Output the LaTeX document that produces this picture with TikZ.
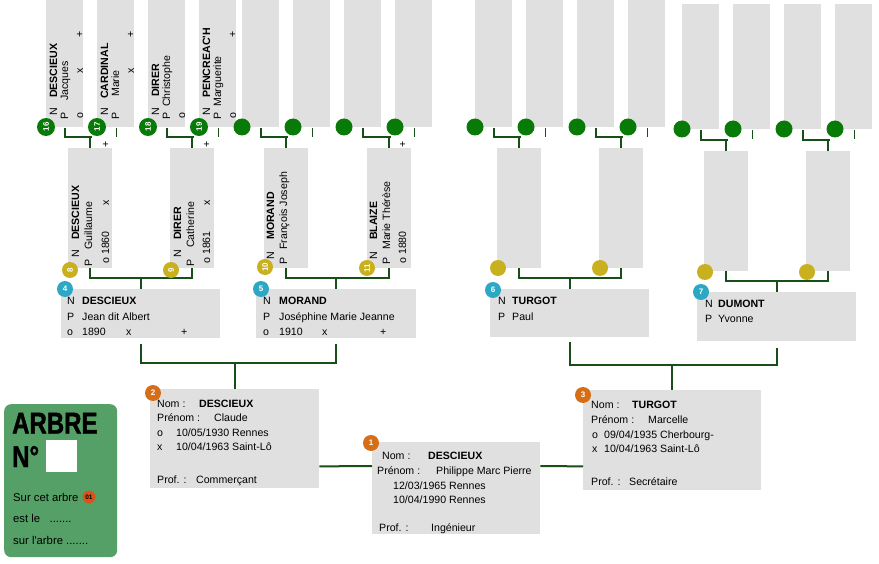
\documentclass[tikz,border=0pt]{standalone}
\usepackage{fontspec}
\setmainfont{Liberation Sans}
\newfontfamily\heavyfont{Liberation Sans}[BoldFeatures={FakeBold=1.6}]
\usetikzlibrary{calc}
\definecolor{boxgray}{RGB}{224,224,224}
\definecolor{linegreen}{RGB}{24,78,24}
\definecolor{dotgreen}{RGB}{8,122,8}
\definecolor{dotgold}{RGB}{200,176,30}
\definecolor{dotteal}{RGB}{44,168,196}
\definecolor{dotorange}{RGB}{214,110,24}
\definecolor{arbregreen}{RGB}{84,160,102}
\definecolor{badgered}{RGB}{216,84,28}
\newcommand\fsz{\fontsize{10.6}{12}\selectfont}
\newcount\tcnt
\newcommand\hTxt[4][]{\global\advance\tcnt by 1 \node[txt,#1] (t\the\tcnt) at (#2,#3) {#4};}
\newcommand\vTxt[4][]{\global\advance\tcnt by 1 \node[rtxt,#1] (t\the\tcnt) at (#2+4,#3) {#4};}
\begin{document}
\begin{tikzpicture}[x=1pt,y=-1pt,
  txt/.style={anchor=base west, inner sep=0, font=\fsz},
  rtxt/.style={rotate=90, anchor=base west, inner sep=0, font=\fsz},
  bold/.style={font=\fsz\bfseries},
  gbox/.style={fill=boxgray, draw=none, inner sep=0, anchor=north west},
  badge/.style={circle, inner sep=0, text=white, font=\fontsize{8}{8}\selectfont\bfseries},
  conn/.style={draw=linegreen, line width=2},
  thinl/.style={draw=linegreen, line width=0.8}]
\useasboundingbox (0,0) rectangle (879,564);
\fill[white] (0,0) rectangle (879,564);

% ---------- generation 5 boxes ----------
\foreach \n/\x/\y/\h in {16/46/0/127,17/97/0/127,18/148/0/127,19/199/0/127,20/242/0/127,21/293/0/127,22/344/0/127,23/395/0/127,
                      24/475/0/127,25/526/0/127,26/577/0/127,27/628/0/127,28/682/4/125,29/733/4/125,30/784/4/125,31/835/4/125}
  \node[gbox, minimum width=37, minimum height=\h] (b\n) at (\x,\y) {};
% ---------- generation 4 boxes ----------
\foreach \n/\x/\y in {8/68/148,9/170/148,10/264/148,11/367/148,12/497/148,13/599/148,14/704/151,15/806/151}
  \node[gbox, minimum width=44, minimum height=120] (b\n) at (\x,\y) {};
% ---------- generation 3 boxes ----------
\node[gbox, minimum width=159, minimum height=49] (b4) at (61,289) {};
\node[gbox, minimum width=160, minimum height=49] (b5) at (256,289) {};
\node[gbox, minimum width=159, minimum height=48] (b6) at (490,289) {};
\node[gbox, minimum width=159, minimum height=49] (b7) at (697,292) {};
% ---------- generation 2 / 1 boxes ----------
\node[gbox, minimum width=169, minimum height=99] (b2) at (150,389) {};
\node[gbox, minimum width=178, minimum height=100] (b3) at (583,390) {};
\node[gbox, minimum width=168, minimum height=92] (b1) at (372,442) {};

% ---------- connectors gen5 -> gen4 ----------
\foreach \l/\r/\g in {16/17/8,18/19/9,20/21/10,22/23/11,24/25/12,26/27/13,28/29/14,30/31/15}{
  \draw[conn] ($(b\l.south west)+(19,1)$) |- ($(b\g.north west)+(24,-11)$);
  \draw[conn] ($(b\g.north west)+(22,-11)$) -- ($(b\g.north west)+(22,0)$);
  \draw[thinl] ($(b\r.south west)+(19,1)$) -- ($(b\r.south west)+(19,10)$);
}
% ---------- connectors gen4 -> gen3 ----------
\draw[conn] ($(b8.south west)+(22,0)$) -- ++(0,10) -| ($(b9.south west)+(22,0)$);
\draw[conn] ($(b4.north)+(0,-11)$) -- (b4.north);
\draw[conn] ($(b10.south west)+(22,0)$) -- ++(0,10) -| ($(b11.south west)+(22,0)$);
\draw[conn] ($(b5.north)+(0,-11)$) -- (b5.north);
\draw[conn] ($(b12.south west)+(22,0)$) -- ++(0,10) -| ($(b13.south west)+(22,0)$);
\draw[conn] ($(b6.north)+(0,-11)$) -- (b6.north);
\draw[conn] ($(b14.south west)+(22,0)$) -- ++(0,10) -| ($(b15.south west)+(22,0)$);
\draw[conn] ($(b7.north)+(0,-11)$) -- (b7.north);
% ---------- connectors gen3 -> gen2 ----------
\draw[conn] ($(b4.south)+(0,6)$) -- ($(b4.south)+(0,25)$) -| ($(b5.south)+(0,6)$);
\draw[conn] ($(b2.north)+(0,-26)$) -- (b2.north);
\draw[conn] ($(b6.south)+(0,5)$) -- ($(b6.south)+(0,28)$) -| ($(b7.south)+(0,7)$);
\draw[conn] ($(b3.north)+(0,-25)$) -- (b3.north);
% ---------- gen2 -> gen1 ----------
\draw[conn] ($(b2.south east)+(0,-22)$) -- ($(b1.north west)+(0,24)$);
\draw[conn] ($(b1.north east)+(0,24)$) -- ($(b3.south west)+(0,-24)$);

% ---------- generation 5 texts ----------
\vTxt{53}{116}{N} \vTxt[bold]{53}{98}{DESCIEUX}
\vTxt{64}{120}{P} \vTxt{64}{101}{Jacques}
\vTxt{79}{119}{o} \vTxt{79}{74}{x} \vTxt{79}{38}{+}
\vTxt{104}{116}{N} \vTxt[bold]{104}{99}{CARDINAL}
\vTxt{115}{120}{P} \vTxt{115}{97}{Marie}
\vTxt{130}{74}{x} \vTxt{130}{38}{+}
\vTxt{155}{116}{N} \vTxt[bold]{155}{97}{DIRER}
\vTxt{166}{120}{P} \vTxt{166}{107}{Christophe}
\vTxt{181}{119}{o}
\vTxt{206}{116}{N} \vTxt[bold]{206}{98}{PENCREAC\textquotesingle H}
\vTxt{217}{120}{P} \vTxt{217}{107}{Marguerite}
\vTxt{232}{119}{o} \vTxt{232}{38}{+}

% ---------- generation 4 texts ----------
\vTxt{75}{258}{N} \vTxt[bold]{75}{240}{DESCIEUX}
\vTxt{88}{267}{P} \vTxt{88}{250}{Guillaume}
\vTxt{105}{264}{o} \vTxt{105}{255}{1860} \vTxt{105}{206}{x} \vTxt{105}{148}{+}
\vTxt{177}{258}{N} \vTxt[bold]{177}{240}{DIRER}
\vTxt{190}{267}{P} \vTxt{190}{248}{Catherine}
\vTxt{206}{264}{o} \vTxt{206}{255}{1861} \vTxt{206}{206}{x} \vTxt{206}{148}{+}
\vTxt{270}{260}{N} \vTxt[bold]{270}{240}{MORAND}
\vTxt{283}{265}{P} \vTxt{283}{250}{François Joseph}
\vTxt{373}{260}{N} \vTxt[bold]{373}{240}{BLAIZE}
\vTxt{386}{265}{P} \vTxt{386}{250}{Marie Thérèse}
\vTxt{402}{264}{o} \vTxt{402}{255}{1880} \vTxt{402}{148}{+}

% ---------- generation 3 texts ----------
\hTxt{67}{305}{N} \hTxt[bold]{82}{305}{DESCIEUX}
\hTxt{67}{320}{P} \hTxt{82}{320}{Jean dit Albert}
\hTxt{67}{335}{o} \hTxt{82}{335}{1890} \hTxt{126}{335}{x} \hTxt{181}{335}{+}
\hTxt{263}{305}{N} \hTxt[bold]{279}{305}{MORAND}
\hTxt{263}{320}{P} \hTxt{279}{320}{Joséphine Marie Jeanne}
\hTxt{263}{335}{o} \hTxt{279}{335}{1910} \hTxt{322}{335}{x} \hTxt{380}{335}{+}
\hTxt{498}{305}{N} \hTxt[bold]{512}{305}{TURGOT}
\hTxt{498}{320}{P} \hTxt{512}{320}{Paul}
\hTxt{705}{308}{N} \hTxt[bold]{718}{308}{DUMONT}
\hTxt{705}{323}{P} \hTxt{718}{323}{Yvonne}

% ---------- generation 2 texts ----------
\hTxt{157}{407}{Nom :} \hTxt[bold]{199}{407}{DESCIEUX}
\hTxt{157}{421}{Prénom :} \hTxt{214}{421}{Claude}
\hTxt{157}{436}{o} \hTxt{176}{436}{10/05/1930 Rennes}
\hTxt{157}{450}{x} \hTxt{176}{450}{10/04/1963 Saint-Lô}
\hTxt{157}{483}{Prof. :} \hTxt{196}{483}{Commerçant}
\hTxt{591}{408}{Nom :} \hTxt[bold]{632}{408}{TURGOT}
\hTxt{591}{423}{Prénom :} \hTxt{648}{423}{Marcelle}
\hTxt{592}{438}{o} \hTxt{604}{438}{09/04/1935 Cherbourg-}
\hTxt{592}{452}{x} \hTxt{604}{452}{10/04/1963 Saint-Lô}
\hTxt{591}{485}{Prof. :} \hTxt{629}{485}{Secrétaire}
% ---------- generation 1 texts ----------
\hTxt{382}{459}{Nom :} \hTxt[bold]{428}{459}{DESCIEUX}
\hTxt{377}{474}{Prénom :} \hTxt{436}{474}{Philippe Marc Pierre}
\hTxt{393}{489}{12/03/1965 Rennes}
\hTxt{393}{503}{10/04/1990 Rennes}
\hTxt{379}{531}{Prof. :} \hTxt{431}{531}{Ingénieur}

% ---------- badges ----------
\foreach \n/\x/\y in {16/46/127,17/97/127,18/148/127,19/199/127}
  \node[badge, fill=dotgreen, minimum size=18, rotate=90] (c\n) at (\x,\y) {\n};
\foreach \n/\x/\y in {20/242/127,21/293/127,22/344/127,23/395/127,24/475/127,25/526/127,26/577/127,27/628/127,
                      28/682/129,29/733/129,30/784/129,31/835/129}
  \node[badge, fill=dotgreen, minimum size=17] (c\n) at (\x,\y) {};
\foreach \n/\x/\y in {8/70/270,9/171/270,10/265/267,11/367/268}
  \node[badge, fill=dotgold, minimum size=16, rotate=90] (c\n) at (\x,\y) {\n};
\foreach \n/\x/\y in {12/498/268,13/600/268,14/705/272,15/807/272}
  \node[badge, fill=dotgold, minimum size=16] (c\n) at (\x,\y) {};
\foreach \n/\x/\y in {4/65/289,5/261/289,6/493/290,7/701/292}
  \node[badge, fill=dotteal, minimum size=16] (c\n) at (\x,\y) {\n};
\foreach \n/\x/\y in {1/371/443,2/153/393,3/583/395}
  \node[badge, fill=dotorange, minimum size=16] (c\n) at (\x,\y) {\n};

% ---------- ARBRE card ----------
\node[fill=arbregreen, rounded corners=7, minimum width=113, minimum height=153, anchor=north west, inner sep=0] (arbre) at (4,404) {};
\node[anchor=base west, inner sep=0, font=\fontsize{30}{30}\selectfont\heavyfont\bfseries] (arbretitle) at (12,433.5) {\scalebox{0.8}[1]{ARBRE}};
\node[anchor=base west, inner sep=0, font=\fontsize{30}{30}\selectfont\heavyfont\bfseries] (arbreno) at (12,467) {\scalebox{0.8}[1]{N°}};
\node[fill=white, minimum width=31, minimum height=32, anchor=north west, inner sep=0] (arbresq) at (46,440) {};
\node[anchor=base west, inner sep=0, font=\fontsize{11.3}{12}\selectfont] (arbre1) at (13,501) {Sur cet arbre};
\node[circle, fill=badgered, minimum size=13, inner sep=0, font=\fontsize{6.5}{7}\selectfont\bfseries] (arbrebadge) at (89,497) {01};
\node[anchor=base west, inner sep=0, font=\fontsize{11.3}{12}\selectfont] (arbre2) at (13,522) {est le ~ .......};
\node[anchor=base west, inner sep=0, font=\fontsize{11.3}{12}\selectfont] (arbre3) at (13,544) {sur l\textquotesingle arbre .......};
\end{tikzpicture}
\end{document}
